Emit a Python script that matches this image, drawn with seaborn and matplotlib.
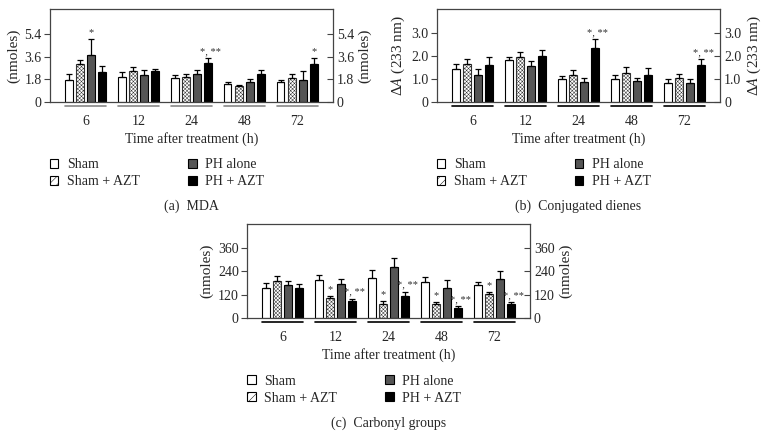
import numpy as np
import pandas as pd
import matplotlib
matplotlib.use('Agg')
import matplotlib.pyplot as plt
import matplotlib.transforms as mtransforms
from matplotlib.patches import Patch
import seaborn as sns

times = ['6', '12', '24', '48', '72']
groups = ['Sham', 'Sham + AZT', 'PH alone', 'PH + AZT']

# (a) MDA
mda_sham = [1.72, 2.0, 1.88, 1.4, 1.56]
mda_sham_azt = [3.0, 2.43, 1.98, 1.24, 1.88]
mda_ph = [3.7, 2.17, 2.2, 1.56, 1.74]
mda_ph_azt = [2.35, 2.43, 3.1, 2.2, 3.0]
mda_err_sham = [0.48, 0.4, 0.24, 0.2, 0.18]
mda_err_sham_azt = [0.36, 0.37, 0.22, 0.14, 0.32]
mda_err_ph = [1.27, 0.4, 0.3, 0.29, 0.71]
mda_err_ph_azt = [0.51, 0.22, 0.4, 0.3, 0.48]
mda_marks = [(0, 2, '*'), (2, 3, '*, **'), (4, 3, '*')]

# (b) conjugated dienes
cd_sham = [1.46, 1.82, 1.0, 1.0, 0.85]
cd_sham_azt = [1.68, 1.98, 1.19, 1.25, 1.07]
cd_ph = [1.2, 1.58, 0.88, 0.91, 0.85]
cd_ph_azt = [1.64, 2.0, 2.37, 1.2, 1.64]
cd_err_sham = [0.22, 0.16, 0.16, 0.17, 0.17]
cd_err_sham_azt = [0.19, 0.22, 0.2, 0.27, 0.17]
cd_err_ph = [0.26, 0.22, 0.17, 0.14, 0.15]
cd_err_ph_azt = [0.32, 0.28, 0.37, 0.29, 0.25]
cd_marks = [(2, 3, '*, **'), (4, 3, '*, **')]

# (c) carbonyl groups
cg_sham = [154, 194, 208, 183, 169]
cg_sham_azt = [192, 103, 73, 70, 122]
cg_ph = [168, 176, 264, 155, 201]
cg_ph_azt = [154, 87, 114, 51, 72]
cg_err_sham = [26, 28, 40, 28, 16]
cg_err_sham_azt = [23, 12, 14, 12, 12]
cg_err_ph = [21, 27, 45, 39, 42]
cg_err_ph_azt = [21, 13, 22, 12, 12]
cg_marks = [(1, 1, '*'), (2, 1, '*'), (3, 1, '*'), (4, 1, '*'),
            (1, 3, '*, **'), (2, 3, '*, **'), (3, 3, '*, **'), (4, 3, '*, **')]

sns.set_style('ticks')
plt.rcParams['font.family'] = ['Liberation Serif', 'DejaVu Serif']
plt.rcParams['mathtext.fontset'] = 'stix'
plt.rcParams['hatch.linewidth'] = 0.35

colors = {'Sham': 'white', 'Sham + AZT': '#d9d9d9', 'PH alone': '#555555', 'PH + AZT': 'black'}
frame = '#444444'
fs = 10


def panel(ax, vals, errs, marks, ylim, yticks, ticklabels, ylabel, caption, line_color):
    df = pd.DataFrame({
        'time': [t for g in groups for t in times],
        'group': [g for g in groups for t in times],
        'value': [v for series in vals for v in series],
    })
    sns.barplot(data=df, x='time', y='value', hue='group', order=times, hue_order=groups,
                palette=colors, width=0.84, gap=0.3, errorbar=None, edgecolor='black',
                linewidth=0.8, legend=False, ax=ax)
    bars = list(ax.containers)
    for gi, cont in enumerate(bars):
        xs = [p.get_x() + p.get_width() / 2 for p in cont.patches]
        ys = [p.get_height() for p in cont.patches]
        if groups[gi] == 'Sham + AZT':
            for p in cont.patches:
                p.set_hatch('xxxxxxxxx')
                p.set_edgecolor('#333333')
                p.set_facecolor('white')
        ax.errorbar(xs, ys, yerr=[np.zeros(len(ys)), errs[gi]], fmt='none',
                    ecolor='black', elinewidth=0.9, capsize=2.5, capthick=0.9, zorder=1)
    span = (ylim[1] - ylim[0])
    for ti, gi, txt in marks:
        p = bars[gi].patches[ti]
        x = p.get_x() + p.get_width() / 2
        ax.text(x + (0.05 if txt != '*' else 0), vals[gi][ti] + errs[gi][ti] + span * 0.02, txt,
                ha='center', va='bottom', fontsize=7.5, color='#333333')

    ax.set_xlim(-0.67, 4.67)
    ax.set_ylim(*ylim)
    ax.set_yticks(yticks)
    ax.set_yticklabels(ticklabels, fontsize=fs)
    ax.set_ylabel(ylabel, fontsize=fs + 1, labelpad=3)
    ax.set_xlabel('Time after treatment (h)', fontsize=fs, labelpad=3)
    ax.tick_params(axis='x', length=0, pad=9, labelsize=fs)
    ax.tick_params(axis='y', direction='out', length=4, width=0.8, color=frame, pad=2)
    for s in ax.spines.values():
        s.set_visible(True)
        s.set_color(frame)
        s.set_linewidth(0.9)

    trans = mtransforms.blended_transform_factory(ax.transData, ax.transAxes)
    for i in range(len(times)):
        ax.plot([i - 0.39, i + 0.39], [-0.045, -0.045], color=line_color, lw=1.2,
                transform=trans, clip_on=False)

    ax2 = ax.twinx()
    ax2.set_ylim(*ylim)
    ax2.set_yticks(yticks)
    ax2.set_yticklabels(ticklabels, fontsize=fs)
    ax2.set_ylabel(ylabel, fontsize=fs + 1, labelpad=3)
    ax2.tick_params(axis='y', direction='in', length=4, width=0.8, color=frame, pad=3)
    for s in ax2.spines.values():
        s.set_visible(False)

    handles = []
    for g in groups:
        if g == 'Sham + AZT':
            handles.append(Patch(facecolor='white', edgecolor='black', linewidth=0.8, hatch='////'))
        else:
            handles.append(Patch(facecolor=colors[g], edgecolor='black', linewidth=0.8))
    ax.legend(handles, groups, ncol=2, loc='upper left', bbox_to_anchor=(0.0, -0.6),
              frameon=False, fontsize=fs, handlelength=0.6, handleheight=0.6,
              handletextpad=0.6, columnspacing=3.5, labelspacing=0.3, borderpad=0,
              borderaxespad=0)
    ax.text(0.5, -1.12, caption, transform=ax.transAxes, ha='center', va='center', fontsize=fs)


fig = plt.figure(figsize=(7.7, 4.48), dpi=100)
ax_a = fig.add_axes([0.065, 0.772, 0.367, 0.208])
ax_b = fig.add_axes([0.5675, 0.772, 0.3675, 0.208])
ax_c = fig.add_axes([0.321, 0.29, 0.367, 0.21])

panel(ax_a, [mda_sham, mda_sham_azt, mda_ph, mda_ph_azt],
      [mda_err_sham, mda_err_sham_azt, mda_err_ph, mda_err_ph_azt], mda_marks,
      (0, 7.36), [0, 1.8, 3.6, 5.4], ['0', '1.8', '3.6', '5.4'], '(nmoles)', '(a)  MDA', '#888888')
panel(ax_b, [cd_sham, cd_sham_azt, cd_ph, cd_ph_azt],
      [cd_err_sham, cd_err_sham_azt, cd_err_ph, cd_err_ph_azt], cd_marks,
      (0, 4.06), [0, 1, 2, 3], ['0', '1.0', '2.0', '3.0'], r'Δ$\mathit{A}$ (233 nm)',
      '(b)  Conjugated dienes', 'black')
panel(ax_c, [cg_sham, cg_sham_azt, cg_ph, cg_ph_azt],
      [cg_err_sham, cg_err_sham_azt, cg_err_ph, cg_err_ph_azt], cg_marks,
      (0, 483), [0, 120, 240, 360], ['0', '120', '240', '360'], '(nmoles)',
      '(c)  Carbonyl groups', 'black')

fig.savefig('out.png', dpi=100)
